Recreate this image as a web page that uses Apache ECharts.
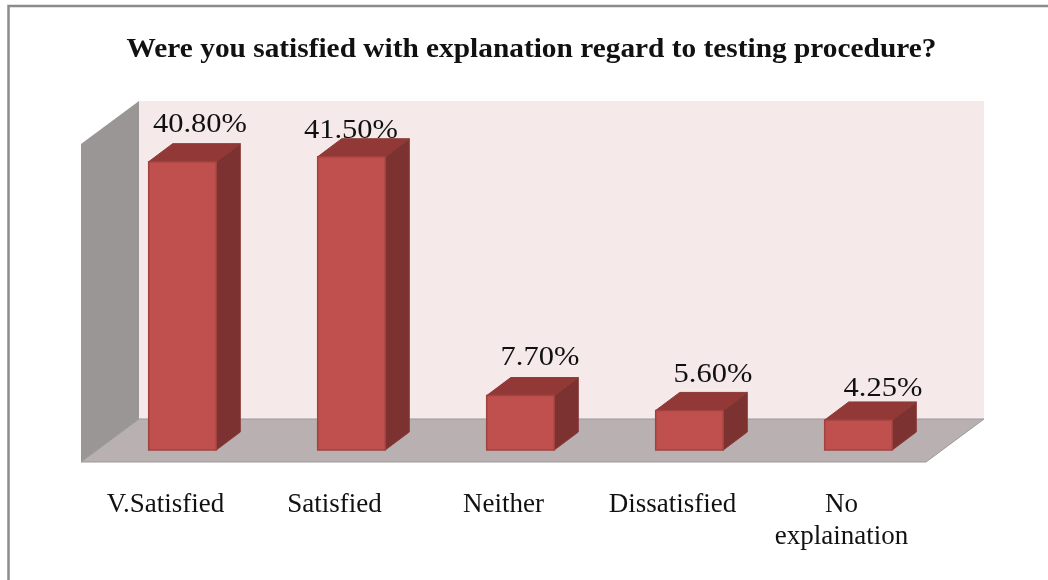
<!DOCTYPE html>
<html><head><meta charset="utf-8">
<style>html,body{margin:0;padding:0;background:#fff}#c{width:1048px;height:580px}</style>
<script src="https://cdn.jsdelivr.net/npm/echarts@6/dist/echarts.min.js"></script>
</head><body><div id="c"></div>
<script>
var titleText = 'Were you satisfied with explanation regard to testing procedure?';
var categories = ['V.Satisfied', 'Satisfied', 'Neither', 'Dissatisfied', 'No\nexplaination'];
var values = [40.8, 41.5, 7.7, 5.6, 4.25];
var valueLabels = ['40.80%', '41.50%', '7.70%', '5.60%', '4.25%'];
// hand-placed label nudges in the original, px from the bar's top-front edge centre
var labelNudgeX = [17.5, -0.5, 19.5, 23.5, 24.5];
var labelNudgeY = [-37, -26, -38, -36, -31];

var DX = 58, DY = -43;            // full depth of the 3D box
var FONT = '"Liberation Serif", serif';
var chart = echarts.init(document.getElementById('c'));

function wallItem(params, api) {
  var cs = params.coordSys;
  var l = cs.x, r = cs.x + cs.width, t = cs.y, b = cs.y + cs.height;
  var line = {stroke: '#9c9898', lineWidth: 1};
  return {type: 'group', silent: true, children: [
    {type: 'polygon', shape: {points: [[l+DX,t+DY],[r+DX,t+DY],[r+DX,b+DY],[l+DX,b+DY]]}, style: {fill: '#f5e9e9'}},
    {type: 'polygon', shape: {points: [[l,t],[l+DX,t+DY],[l+DX,b+DY],[l,b]]}, style: {fill: '#9a9695'}},
    {type: 'polygon', shape: {points: [[l,b],[l+DX,b+DY],[r+DX,b+DY],[r,b]]}, style: {fill: '#b8b0b1'}},
    {type: 'polyline', shape: {points: [[l,b],[l+DX,b+DY],[r+DX,b+DY],[r,b],[l,b]]}, style: Object.assign({fill: 'none'}, line)}
  ]};
}

function barItem(params, api) {
  var i = api.value(0);
  var p0 = api.coord([i, 0]), p1 = api.coord([i, api.value(1)]);
  var w = api.size([1, 0])[0] * 0.4;
  var ox = DX * 0.293, oy = DY * 0.279;     // front face sits this far into the floor
  var dx = DX * 0.414, dy = DY * 0.419;     // bar depth
  var x0 = p0[0] - w / 2 + ox, x1 = x0 + w, yb = p0[1] + oy, yt = p1[1] + oy;
  return {type: 'group', children: [
    {type: 'text', z2: 0, x: p1[0] + ox + labelNudgeX[i], y: yt + labelNudgeY[i], scaleX: 1.13,
      style: {text: valueLabels[i], align: 'center', verticalAlign: 'middle', font: '27px ' + FONT, fill: '#111'}},
    {type: 'polygon', z2: 1, shape: {points: [[x1,yt],[x1+dx,yt+dy],[x1+dx,yb+dy],[x1,yb]]}, style: {fill: '#7c3230', stroke: '#8a3a38', lineWidth: 1}},
    {type: 'polygon', z2: 1, shape: {points: [[x0,yt],[x0+dx,yt+dy],[x1+dx,yt+dy],[x1,yt]]}, style: {fill: '#923937', stroke: '#8a3a38', lineWidth: 1}},
    {type: 'rect', z2: 2, shape: {x: x0, y: yt, width: w, height: yb - yt}, style: {fill: '#c0504d', stroke: '#a04340', lineWidth: 1.5}}
  ]};
}

chart.setOption({
  animation: false,
  backgroundColor: '#fff',
  grid: {left: 81, top: 144, width: 845, height: 318, show: false},
  xAxis: {type: 'category', data: categories, axisLine: {show: false}, axisTick: {show: false}, splitLine: {show: false},
    axisLabel: {fontFamily: FONT, fontSize: 27, color: '#111', margin: 27, lineHeight: 32, interval: 0}},
  yAxis: {type: 'value', min: 0, max: 45, show: false},
  graphic: [
    {type: 'rect', silent: true, z: -1, shape: {x: 8.5, y: 6, width: 1100, height: 640}, style: {fill: '#fff', stroke: '#8c8c8c', lineWidth: 2.5}},
    {type: 'text', silent: true, x: 531.5, y: 50, scaleX: 1.087,
      style: {text: titleText, align: 'center', verticalAlign: 'middle', font: 'bold 27px ' + FONT, fill: '#111'}}
  ],
  series: [
    {type: 'custom', name: 'walls', coordinateSystem: 'cartesian2d', data: [[0, 0]], renderItem: wallItem, z: 1, clip: false, silent: true},
    {type: 'custom', name: 'bars', coordinateSystem: 'cartesian2d', renderItem: barItem, z: 2, clip: false, silent: true,
      encode: {x: 0, y: 1}, data: values.map(function (v, i) { return [i, v]; })}
  ]
});
</script></body></html>
